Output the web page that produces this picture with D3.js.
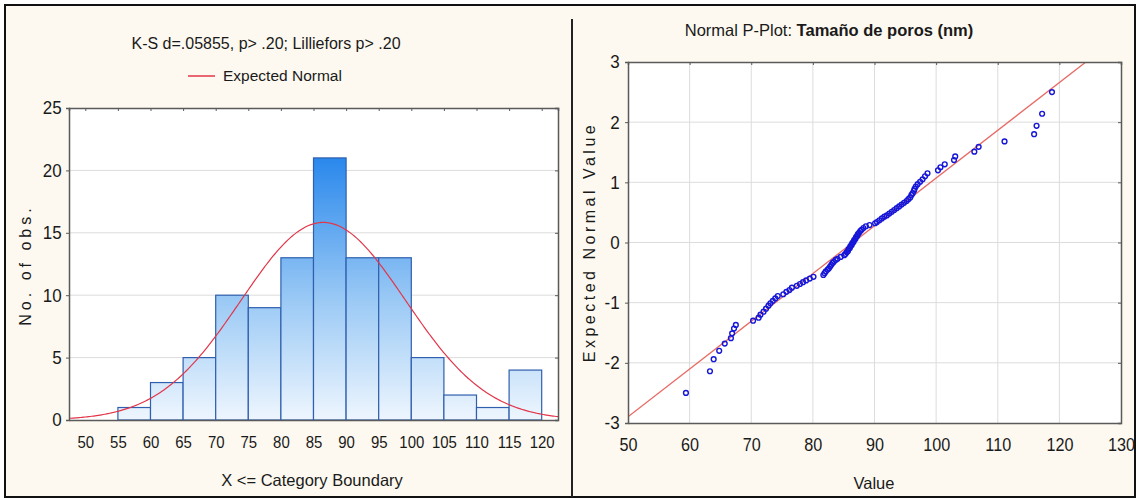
<!DOCTYPE html>
<html>
<head>
<meta charset="utf-8">
<script src="https://cdn.jsdelivr.net/npm/d3@7"></script>
<style>
  html, body { margin: 0; padding: 0; background: #ffffff; }
  svg { display: block; font-family: "Liberation Sans", Arial, sans-serif; }
</style>
</head>
<body>
<svg id="chart" width="1140" height="500"></svg>
<script>
// ---------------- DATA ----------------
const leftTitle = "K-S d=.05855, p> .20; Lilliefors p> .20";
const legendLabel = "Expected Normal";
const leftXLabel = "X <= Category Boundary";
const leftYLabel = "No. of obs.";
const rightTitleRegular = "Normal P-Plot: ";
const rightTitleBold = "Tamaño de poros (nm)";
const rightXLabel = "Value";
const rightYLabel = "Expected Normal Value";

const binLower = [55, 60, 65, 70, 75, 80, 85, 90, 95, 100, 105, 110, 115];
const binCounts = [1, 3, 5, 10, 9, 13, 21, 13, 13, 5, 2, 1, 4];
const binWidth = 5;
const leftXTicks = [50, 55, 60, 65, 70, 75, 80, 85, 90, 95, 100, 105, 110, 115, 120];
const leftYTicks = [0, 5, 10, 15, 20, 25];

const normalMean = 86.5;
const normalSD = 12.6;
const sampleN = 100;

const rightXTicks = [50, 60, 70, 80, 90, 100, 110, 120, 130];
const rightYTicks = [-3, -2, -1, 0, 1, 2, 3];

// sorted observed values (read from the P-plot)
const ppValues = [
  59.4, 63.3, 63.9, 64.8, 65.7, 66.7, 66.9, 67.2, 67.5,
  70.3, 71.2, 71.5, 72.0, 72.4, 72.8, 73.1, 73.5, 73.9, 74.3,
  75.2, 75.7, 76.2, 76.6, 77.4, 77.9, 78.4, 78.9, 79.5,
  80.1, 81.7, 81.9, 82.1, 82.4, 82.6, 82.8, 83.0, 83.2, 83.4, 83.7, 84.0, 84.5,
  85.1, 85.3, 85.5, 85.7, 85.8, 86.0, 86.1, 86.3, 86.4, 86.6, 86.7, 86.9, 87.0,
  87.2, 87.3, 87.5, 87.7, 87.9, 88.2, 88.6, 89.2,
  90.1, 90.4, 90.8, 91.2, 91.6, 92.0, 92.4, 92.8, 93.2, 93.6, 94.0, 94.4, 94.8,
  95.2, 95.5, 95.8, 96.0, 96.2, 96.4, 96.5, 96.7, 97.0, 97.4, 97.8, 98.2, 98.6,
  100.3, 100.7, 101.4, 102.9, 103.1,
  106.2, 106.9,
  111.1,
  115.9, 116.3, 117.2, 118.8
];
// expected normal values (read from the P-plot)
const ppExpected = [
  -2.50, -2.14, -1.94, -1.80, -1.68, -1.59, -1.51, -1.43, -1.37, -1.30,
  -1.25, -1.20, -1.15, -1.10, -1.05, -1.01, -0.97, -0.93, -0.89, -0.86,
  -0.82, -0.79, -0.75, -0.72, -0.69, -0.66, -0.63, -0.60, -0.57, -0.54,
  -0.51, -0.48, -0.45, -0.43, -0.40, -0.37, -0.34, -0.32, -0.29, -0.27,
  -0.24, -0.21, -0.19, -0.16, -0.14, -0.11, -0.09, -0.06, -0.04, -0.01,
  0.01, 0.04, 0.06, 0.09, 0.11, 0.14, 0.16, 0.19, 0.21, 0.24,
  0.27, 0.29, 0.32, 0.34, 0.37, 0.40, 0.43, 0.45, 0.48, 0.51,
  0.54, 0.57, 0.60, 0.63, 0.66, 0.69, 0.72, 0.75, 0.79, 0.82,
  0.86, 0.89, 0.93, 0.97, 1.01, 1.05, 1.10, 1.15, 1.20, 1.25,
  1.30, 1.37, 1.43, 1.51, 1.59, 1.68, 1.80, 1.94, 2.14, 2.50
];

// ---------------- DRAW ----------------
const svg = d3.select("#chart");
const cream = "#fdf9f0";
const axisCol = "#5a5a5a";
const gridCol = "#dcdcdc";
const textCol = "#1a1a1a";
const fmt = d => String(d);

// outer frame
svg.append("rect").attr("x", 5).attr("y", 5).attr("width", 1130).attr("height", 492)
  .attr("fill", cream).attr("stroke", "#111").attr("stroke-width", 2);
svg.append("line").attr("x1", 572).attr("x2", 572).attr("y1", 19).attr("y2", 497)
  .attr("stroke", "#222").attr("stroke-width", 2);

const defs = svg.append("defs");

function styleAxis(a, size, sx) {
  a.select(".domain").attr("stroke", axisCol).attr("stroke-width", 1.5);
  a.selectAll(".tick line").attr("stroke", axisCol);
  a.selectAll("text").attr("fill", textCol)
    .attr("font-family", "Liberation Sans, Arial, sans-serif")
    .attr("font-size", size)
    .attr("transform", `scale(${sx},1)`);
}

// ===== LEFT: histogram =====
const L = { x0: 69, x1: 558, y0: 420, y1: 108 };
const xL = d3.scaleLinear().domain([47.5, 122.5]).range([L.x0, L.x1]);
const yL = d3.scaleLinear().domain([0, 25]).range([L.y0, L.y1]);

svg.append("rect").attr("x", L.x0).attr("y", L.y1).attr("width", L.x1 - L.x0).attr("height", L.y0 - L.y1)
  .attr("fill", "#fff");

svg.append("g").selectAll("line").data(leftYTicks.filter(d => d > 0 && d < 25)).join("line")
  .attr("x1", L.x0).attr("x2", L.x1).attr("y1", d => yL(d)).attr("y2", d => yL(d))
  .attr("stroke", gridCol).attr("stroke-width", 1);

const grad = defs.append("linearGradient").attr("id", "barGrad")
  .attr("gradientUnits", "userSpaceOnUse")
  .attr("x1", 0).attr("x2", 0).attr("y1", yL(0)).attr("y2", yL(21));
grad.append("stop").attr("offset", "0%").attr("stop-color", "#eef6fe");
grad.append("stop").attr("offset", "45%").attr("stop-color", "#9ccaf5");
grad.append("stop").attr("offset", "100%").attr("stop-color", "#2a88ec");

svg.append("g").selectAll("rect").data(binLower.map((b, i) => ({ b, c: binCounts[i] }))).join("rect")
  .attr("x", d => xL(d.b)).attr("width", d => xL(d.b + binWidth) - xL(d.b))
  .attr("y", d => yL(d.c)).attr("height", d => yL(0) - yL(d.c))
  .attr("fill", "url(#barGrad)").attr("stroke", "#2f5fae").attr("stroke-width", 1.2);

const clipL = defs.append("clipPath").attr("id", "clipL");
clipL.append("rect").attr("x", L.x0).attr("y", L.y1).attr("width", L.x1 - L.x0).attr("height", L.y0 - L.y1);
const pdf = x => Math.exp(-0.5 * ((x - normalMean) / normalSD) ** 2) / (normalSD * Math.sqrt(2 * Math.PI));
const curveX = d3.range(47.5, 122.6, 0.25);
svg.append("path").attr("clip-path", "url(#clipL)")
  .datum(curveX)
  .attr("d", d3.line().x(d => xL(d)).y(d => yL(sampleN * binWidth * pdf(d))))
  .attr("fill", "none").attr("stroke", "#e2364a").attr("stroke-width", 1.2);

const axL = svg.append("g").attr("transform", `translate(${L.x0},0)`)
  .call(d3.axisLeft(yL).tickValues(leftYTicks).tickFormat(fmt).tickSize(3).tickPadding(5));
const axB = svg.append("g").attr("transform", `translate(0,${L.y0})`)
  .call(d3.axisBottom(xL).tickValues(leftXTicks).tickFormat(fmt).tickSize(0).tickPadding(16));
const axT = svg.append("g").attr("transform", `translate(0,${L.y1})`)
  .call(d3.axisBottom(xL).tickValues(leftXTicks).tickSize(3).tickFormat(""));
const axR = svg.append("g").attr("transform", `translate(${L.x1},0)`)
  .call(d3.axisLeft(yL).tickValues(leftYTicks).tickSize(3).tickFormat(""));
styleAxis(axL, 18.5, 0.92);
styleAxis(axB, 17, 0.88);
styleAxis(axT, 10, 1);
styleAxis(axR, 10, 1);

svg.append("text").attr("x", 266).attr("y", 49).attr("text-anchor", "middle")
  .attr("font-size", 16).attr("fill", textCol).text(leftTitle);
svg.append("line").attr("x1", 188).attr("x2", 215).attr("y1", 76).attr("y2", 76)
  .attr("stroke", "#e2364a").attr("stroke-width", 1.5);
svg.append("text").attr("x", 223).attr("y", 81).attr("font-size", 15.5).attr("fill", textCol).text(legendLabel);
svg.append("text").attr("x", 312).attr("y", 486).attr("text-anchor", "middle")
  .attr("font-size", 16.5).attr("fill", textCol).text(leftXLabel);
svg.append("text").attr("transform", "translate(31,265) rotate(-90)").attr("text-anchor", "middle")
  .attr("font-size", 16).attr("letter-spacing", 4).attr("fill", textCol).text(leftYLabel);

// ===== RIGHT: normal probability plot =====
const R = { x0: 628, x1: 1121, y0: 423, y1: 62 };
const xR = d3.scaleLinear().domain([50, 130]).range([R.x0, R.x1]);
const yR = d3.scaleLinear().domain([-3, 3]).range([R.y0, R.y1]);

svg.append("rect").attr("x", R.x0).attr("y", R.y1).attr("width", R.x1 - R.x0).attr("height", R.y0 - R.y1)
  .attr("fill", "#fff");
svg.append("g").selectAll("line").data(rightYTicks.slice(1, -1)).join("line")
  .attr("x1", R.x0).attr("x2", R.x1).attr("y1", d => yR(d)).attr("y2", d => yR(d))
  .attr("stroke", gridCol).attr("stroke-width", 1);
svg.append("g").selectAll("line").data(rightXTicks.slice(1, -1)).join("line")
  .attr("y1", R.y0).attr("y2", R.y1).attr("x1", d => xR(d)).attr("x2", d => xR(d))
  .attr("stroke", gridCol).attr("stroke-width", 1);

const clipR = defs.append("clipPath").attr("id", "clipR");
clipR.append("rect").attr("x", R.x0).attr("y", R.y1).attr("width", R.x1 - R.x0).attr("height", R.y0 - R.y1);
const lineX = [50, 130];
svg.append("path").attr("clip-path", "url(#clipR)").datum(lineX)
  .attr("d", d3.line().x(d => xR(d)).y(d => yR((d - normalMean) / normalSD)))
  .attr("fill", "none").attr("stroke", "#e86a64").attr("stroke-width", 1.3);

svg.append("g").selectAll("circle").data(ppValues.map((v, i) => ({ v, z: ppExpected[i] }))).join("circle")
  .attr("cx", d => xR(d.v)).attr("cy", d => yR(d.z)).attr("r", 2.4)
  .attr("fill", "none").attr("stroke", "#1616d8").attr("stroke-width", 1.4);

const aRL = svg.append("g").attr("transform", `translate(${R.x0},0)`)
  .call(d3.axisLeft(yR).tickValues(rightYTicks).tickFormat(fmt).tickSize(3).tickPadding(6));
const aRB = svg.append("g").attr("transform", `translate(0,${R.y0})`)
  .call(d3.axisBottom(xR).tickValues(rightXTicks).tickFormat(fmt).tickSize(0).tickPadding(15));
const aRT = svg.append("g").attr("transform", `translate(0,${R.y1})`)
  .call(d3.axisBottom(xR).tickValues(rightXTicks).tickSize(3).tickFormat(""));
const aRR = svg.append("g").attr("transform", `translate(${R.x1},0)`)
  .call(d3.axisLeft(yR).tickValues(rightYTicks).tickSize(3).tickFormat(""));
styleAxis(aRL, 18.5, 0.92);
styleAxis(aRB, 18, 0.9);
styleAxis(aRT, 10, 1);
styleAxis(aRR, 10, 1);

const rt = svg.append("text").attr("x", 829).attr("y", 36).attr("text-anchor", "middle")
  .attr("font-size", 16.5).attr("fill", textCol);
rt.append("tspan").text(rightTitleRegular);
rt.append("tspan").attr("font-weight", "bold").text(rightTitleBold);
svg.append("text").attr("x", 874).attr("y", 489).attr("text-anchor", "middle")
  .attr("font-size", 16.5).attr("fill", textCol).text(rightXLabel);
svg.append("text").attr("transform", "translate(595,242) rotate(-90)").attr("text-anchor", "middle")
  .attr("font-size", 16).attr("letter-spacing", 3.5).attr("fill", textCol).text(rightYLabel);
</script>
</body>
</html>
